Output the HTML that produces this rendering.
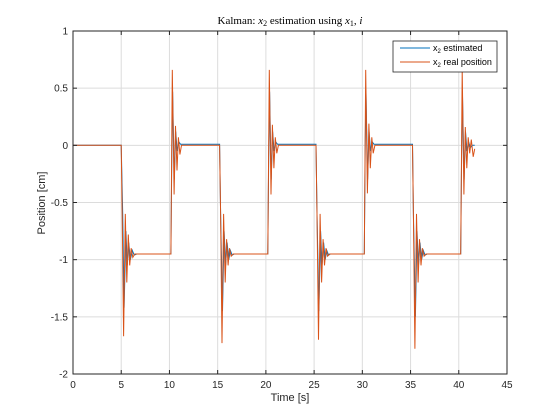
<!DOCTYPE html>
<html><head><meta charset="utf-8"><style>
body{margin:0;background:#fff}
svg{display:block;font-family:"Liberation Sans",sans-serif}
</style></head><body>
<svg id="chart" width="560" height="420" viewBox="0 0 560 420" xmlns="http://www.w3.org/2000/svg">
<rect x="0" y="0" width="560" height="420" fill="#fff"/>
<g id="grid"></g>
<g id="series"></g>
<rect x="73" y="31" width="434" height="343" fill="none" stroke="#262626" stroke-width="1"/>
<g id="ticks"></g>
<text x="290" y="24" text-anchor="middle" font-family="Liberation Serif,serif" font-size="11" fill="#000">Kalman: <tspan font-style="italic">x</tspan><tspan font-size="8" dy="2">2</tspan><tspan dy="-2"> estimation using </tspan><tspan font-style="italic">x</tspan><tspan font-size="8" dy="2">1</tspan><tspan dy="-2">, </tspan><tspan font-style="italic">i</tspan></text>
<text x="290" y="401" text-anchor="middle" font-size="11" fill="#262626">Time [s]</text>
<text transform="translate(45,203) rotate(-90)" text-anchor="middle" font-size="11" fill="#262626">Position [cm]</text>
<g>
<rect x="393" y="41" width="104" height="31" fill="#fff" stroke="#262626" stroke-width="0.8"/>
<line x1="400" y1="48" x2="430" y2="48" stroke="#0072BD" stroke-width="1"/>
<text x="433" y="51" font-size="9" fill="#000">x<tspan font-size="6" dy="2">2</tspan><tspan dy="-2"> estimated</tspan></text>
<line x1="400" y1="62" x2="430" y2="62" stroke="#D95319" stroke-width="1"/>
<text x="433" y="65" font-size="9" fill="#000">x<tspan font-size="6" dy="2">2</tspan><tspan dy="-2"> real position</tspan></text>
</g>
</svg>
<script>
const xTicks=[0,5,10,15,20,25,30,35,40,45];
const yTicks=[1,0.5,0,-0.5,-1,-1.5,-2];
const yTickLabels=["1","0.5","0","-0.5","-1","-1.5","-2"];
const realPos=[[0,0],[5,0],[5.1,-0.6],[5.25,-1.67],[5.42,-0.6],[5.58,-1.2],[5.73,-0.78],[5.88,-1.05],[6.03,-0.9],[6.2,-0.98],[6.4,-0.95],[10.15,-0.95],[10.3,0.66],[10.48,-0.43],[10.63,0.17],[10.78,-0.22],[10.93,0.07],[11.08,-0.08],[11.25,0],[15.2,0],[15.3,-0.6],[15.45,-1.73],[15.62,-0.6],[15.78,-1.2],[15.93,-0.82],[16.08,-1.05],[16.23,-0.9],[16.4,-0.97],[16.6,-0.95],[20.2,-0.95],[20.35,0.66],[20.53,-0.43],[20.68,0.18],[20.83,-0.2],[20.98,0.07],[21.13,-0.07],[21.3,0],[25.2,0],[25.3,-0.6],[25.45,-1.7],[25.62,-0.6],[25.78,-1.2],[25.93,-0.82],[26.08,-1.05],[26.23,-0.9],[26.4,-0.97],[26.6,-0.95],[30.2,-0.95],[30.35,0.66],[30.53,-0.42],[30.68,0.19],[30.83,-0.2],[30.98,0.07],[31.13,-0.07],[31.3,0],[35.2,0],[35.3,-0.6],[35.45,-1.78],[35.62,-0.6],[35.78,-1.2],[35.93,-0.82],[36.08,-1.05],[36.23,-0.9],[36.4,-0.97],[36.6,-0.95],[40.2,-0.95],[40.35,0.66],[40.53,-0.43],[40.68,0.16],[40.83,-0.2],[40.98,0.07],[41.13,-0.07],[41.3,0.05],[41.5,-0.1],[41.65,-0.03]];
const estPos=[[0,0],[5,0],[5.15,-0.6],[5.3,-1.42],[5.48,-0.75],[5.63,-1.05],[5.78,-0.85],[5.95,-1.0],[6.15,-0.92],[6.35,-0.96],[6.6,-0.95],[10.15,-0.95],[10.25,0.0],[10.33,0.47],[10.5,-0.3],[10.65,0.12],[10.8,-0.05],[10.97,0.03],[11.15,0.01],[15.2,0.01],[15.3,-0.6],[15.5,-1.45],[15.67,-0.75],[15.82,-1.05],[15.98,-0.85],[16.15,-1.0],[16.32,-0.92],[16.5,-0.96],[16.7,-0.95],[20.2,-0.95],[20.3,0.0],[20.38,0.47],[20.55,-0.3],[20.7,0.12],[20.85,-0.05],[21.02,0.03],[21.2,0.01],[25.2,0.01],[25.3,-0.6],[25.5,-1.45],[25.67,-0.75],[25.82,-1.05],[25.98,-0.85],[26.15,-1.0],[26.32,-0.92],[26.5,-0.96],[26.7,-0.95],[30.2,-0.95],[30.3,0.0],[30.38,0.46],[30.55,-0.3],[30.7,0.12],[30.85,-0.05],[31.02,0.03],[31.2,0.01],[35.2,0.01],[35.3,-0.6],[35.5,-1.5],[35.67,-0.75],[35.82,-1.05],[35.98,-0.85],[36.15,-1.0],[36.32,-0.92],[36.5,-0.96],[36.7,-0.95],[40.2,-0.95],[40.3,0.0],[40.38,0.47],[40.55,-0.3],[40.7,0.12],[40.85,-0.05],[41.02,0.03],[41.2,-0.02],[41.4,0.0],[41.65,0.0]];
const X=t=>73+(t-0)/45*434;
const Y=v=>31+(1-v)/3*343;
const NS="http://www.w3.org/2000/svg";
const grid=document.getElementById('grid'),ticks=document.getElementById('ticks'),series=document.getElementById('series');
function mk(tag,attrs,parent){const e=document.createElementNS(NS,tag);for(const k in attrs)e.setAttribute(k,attrs[k]);parent.appendChild(e);return e;}
xTicks.forEach(t=>{
  const g=mk('line',{x1:X(t),x2:X(t),y1:31,y2:374,stroke:'#dcdcdc','stroke-width':1},grid);
  
  
  mk('line',{x1:X(t),x2:X(t),y1:374,y2:370,stroke:'#262626'},ticks);
  mk('line',{x1:X(t),x2:X(t),y1:31,y2:35,stroke:'#262626'},ticks);
  const l=mk('text',{x:X(t),y:388,'text-anchor':'middle','font-size':10,fill:'#262626'},ticks);
  l.textContent=t;
  
  
});
yTicks.forEach((v,i)=>{
  const g=mk('line',{x1:73,x2:507,y1:Y(v),y2:Y(v),stroke:'#dcdcdc','stroke-width':1},grid);
  
  
  mk('line',{x1:73,x2:77,y1:Y(v),y2:Y(v),stroke:'#262626'},ticks);
  mk('line',{x1:507,x2:503,y1:Y(v),y2:Y(v),stroke:'#262626'},ticks);
  const l=mk('text',{x:68,y:Y(v)+3.5,'text-anchor':'end','font-size':10,fill:'#262626'},ticks);
  l.textContent=yTickLabels[i];
  
  
});
function pathOf(d){return d.map((p,i)=>(i?'L':'M')+X(p[0]).toFixed(1)+','+Y(p[1]).toFixed(1)).join('');}
const pe=mk('path',{d:pathOf(estPos),fill:'none',stroke:'#0072BD','stroke-width':1},series);


const pr=mk('path',{d:pathOf(realPos),fill:'none',stroke:'#D95319','stroke-width':1},series);


</script>
</body></html>
